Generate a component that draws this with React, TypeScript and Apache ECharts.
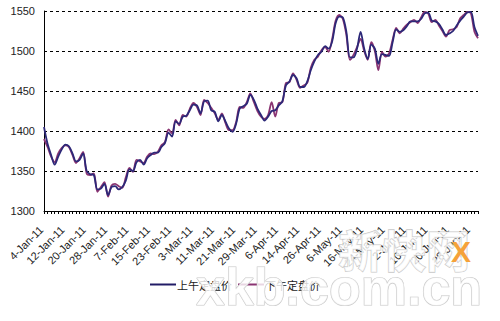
import { useEffect, useRef } from 'react';
import * as echarts from 'echarts';

const janDays = [4, 5, 6, 7, 10, 11, 12, 13, 14, 17, 18, 19, 20, 21, 24, 25, 26, 27, 28, 31];
const febDays = [1, 2, 3, 4, 7, 8, 9, 10, 11, 14, 15, 16, 17, 18, 21, 22, 23, 24, 25, 28];
const marDays = [1, 2, 3, 4, 7, 8, 9, 10, 11, 14, 15, 16, 17, 18, 21, 22, 23, 24, 25, 28, 29, 30, 31];
const aprDays = [1, 4, 5, 6, 7, 8, 11, 12, 13, 14, 15, 18, 19, 20, 21, 26, 27, 28];
const mayDays = [3, 4, 5, 6, 9, 10, 11, 12, 13, 16, 17, 18, 19, 20, 23, 24, 25, 26, 27, 31];
const junDays = [1, 2, 3, 6, 7, 8, 9, 10, 13, 14, 15, 16, 17, 20, 21, 22, 23, 24, 27, 28, 29, 30];

const categories: string[] = [
  ...janDays.map((d) => `${d}-Jan-11`),
  ...febDays.map((d) => `${d}-Feb-11`),
  ...marDays.map((d) => `${d}-Mar-11`),
  ...aprDays.map((d) => `${d}-Apr-11`),
  ...mayDays.map((d) => `${d}-May-11`),
  ...junDays.map((d) => `${d}-Jun-11`),
];

const seriesNames = ['上午定盘价', '下午定盘价'];

const amFix = [
  1405, 1384, 1370, 1358, 1368, 1377, 1383, 1381, 1372, 1362,
  1364, 1372, 1350, 1346, 1345, 1327, 1328, 1334, 1320, 1330,
  1331, 1327, 1330, 1338, 1352, 1350, 1361, 1364, 1358, 1366,
  1370, 1373, 1373, 1380, 1385, 1398, 1393, 1412, 1409, 1418,
  1419, 1426, 1433, 1432, 1422, 1437, 1438, 1426, 1424, 1412,
  1420, 1412, 1403, 1399, 1409, 1428, 1431, 1434, 1445, 1439,
  1428, 1420, 1413, 1418, 1425, 1426, 1432, 1437, 1457, 1462,
  1470, 1466, 1455, 1455, 1462, 1476, 1487, 1495, 1499, 1506,
  1503, 1512, 1535, 1543, 1542, 1524, 1492, 1492, 1503, 1524,
  1503, 1490, 1508, 1503, 1484, 1496, 1495, 1494, 1511, 1527,
  1524, 1526, 1531, 1537, 1537, 1537, 1540, 1547, 1548, 1538,
  1537, 1534, 1527, 1520, 1522, 1525, 1532, 1538, 1543, 1548,
  1549, 1530, 1519,
];

const pmFix = [
  1390, 1380, 1368, 1361, 1372, 1379, 1382, 1380, 1370, 1360,
  1366, 1374, 1347, 1345, 1347, 1324, 1330, 1336, 1318, 1332,
  1334, 1331, 1329, 1342, 1354, 1349, 1364, 1362, 1360, 1368,
  1372, 1371, 1374, 1382, 1386, 1402, 1397, 1414, 1407, 1420,
  1418, 1428, 1435, 1430, 1420, 1439, 1435, 1429, 1422, 1414,
  1422, 1410, 1401, 1401, 1411, 1430, 1429, 1436, 1447, 1436,
  1425, 1418, 1415, 1420, 1436, 1418, 1435, 1436, 1460, 1461,
  1472, 1464, 1454, 1457, 1460, 1479, 1489, 1493, 1501, 1505,
  1499, 1515, 1538, 1545, 1540, 1520, 1489, 1495, 1505, 1515,
  1500, 1489, 1511, 1500, 1476, 1499, 1493, 1497, 1514, 1529,
  1522, 1528, 1533, 1536, 1539, 1535, 1542, 1549, 1547, 1536,
  1539, 1532, 1525, 1518, 1526, 1527, 1530, 1541, 1545, 1549,
  1547, 1524, 1516,
];

const yMin = 1300;
const yMax = 1550;
const yStep = 50;

export default function App() {
  const ref = useRef<HTMLDivElement>(null);
  useEffect(() => {
    if (!ref.current) return;
    const chart = echarts.init(ref.current, null, { renderer: 'svg' });
    chart.setOption({
      animation: false,
      backgroundColor: '#ffffff',
      grid: { left: 44, right: 22, top: 11, bottom: 110, containLabel: false },
      xAxis: {
        type: 'category',
        data: categories,
        boundaryGap: false,
        axisLine: { show: true, lineStyle: { color: '#000', width: 1 } },
        axisTick: { show: true, interval: 0, length: 3, lineStyle: { color: '#000' } },
        axisLabel: {
          interval: 5,
          rotate: 45,
          margin: 14,
          padding: [0, 4, 0, 0],
          fontSize: 11,
          fontFamily: 'Liberation Sans, Arial, sans-serif',
          color: '#222',
        },
        splitLine: { show: false },
      },
      yAxis: {
        type: 'value',
        min: yMin,
        max: yMax,
        interval: yStep,
        axisLine: { show: true, lineStyle: { color: '#000', width: 1 } },
        axisTick: { show: false },
        axisLabel: {
          margin: 9,
          fontSize: 11,
          fontFamily: 'Liberation Sans, Arial, sans-serif',
          color: '#222',
          formatter: (v: number) => String(v),
        },
        splitLine: { show: true, lineStyle: { color: '#000', type: [3, 3], width: 1 } },
      },
      legend: {
        left: 145,
        top: 274,
        icon: 'rect',
        itemWidth: 26,
        itemHeight: 2,
        itemGap: 6,
        textStyle: { fontSize: 11, fontFamily: 'Noto Sans CJK SC', color: '#222', padding: [0, 0, 0, -4] },
        data: seriesNames,
      },
      series: [
        {
          name: seriesNames[0],
          type: 'line',
          data: amFix,
          symbol: 'none',
          smooth: 0.3,
          z: 3,
          lineStyle: { color: '#2c2878', width: 1.8 },
          itemStyle: { color: '#221c66' },
        },
        {
          name: seriesNames[1],
          type: 'line',
          data: pmFix,
          symbol: 'none',
          smooth: 0.3,
          z: 2,
          lineStyle: { color: '#8a3472', width: 1.8 },
          itemStyle: { color: '#8a3472' },
        },
      ],
      graphic: [
        {
          type: 'text',
          z: 100,
          x: 196,
          y: 287,
          style: {
            text: 'xkb.com.cn',
            font: 'bold 52px "Liberation Sans", Arial, sans-serif',
            fill: 'rgba(255,255,255,0.8)',
            stroke: '#c8c8c8',
            lineWidth: 1.2,
            verticalAlign: 'middle',
          },
        },
        {
          type: 'text',
          z: 100,
          x: 338,
          y: 249,
          style: {
            text: '新快网',
            font: 'bold 44px "Noto Sans CJK SC"',
            fill: 'rgba(255,255,255,0.8)',
            stroke: '#c8c8c8',
            lineWidth: 1.2,
            verticalAlign: 'middle',
          },
        },
        {
          type: 'text',
          z: 101,
          x: 461,
          y: 251,
          style: {
            text: 'X',
            font: 'bold 30px "Liberation Sans", Arial, sans-serif',
            fill: '#f5a23a',
            align: 'center',
            verticalAlign: 'middle',
          },
        },
      ],
    });
    return () => chart.dispose();
  }, []);
  return <div ref={ref} style={{ position: 'absolute', left: 0, top: 0, width: 500, height: 321 }} />;
}
